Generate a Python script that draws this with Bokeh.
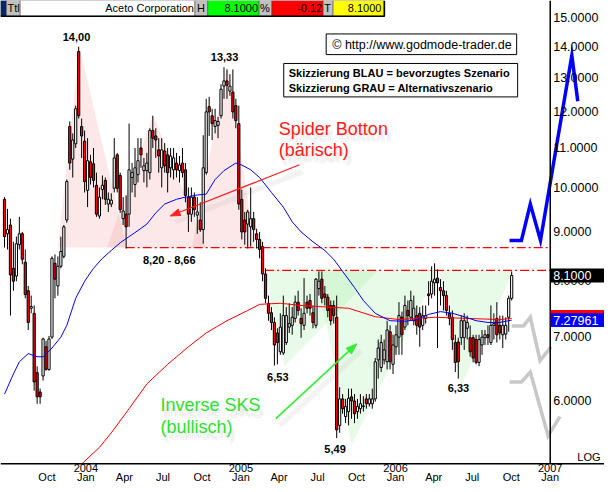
import math
import numpy as np
import pandas as pd
from bokeh.plotting import figure
from bokeh.models import Range1d, LinearScale, ColumnDataSource
from bokeh.core.properties import value
from bokeh.embed import file_html
from bokeh.resources import INLINE

# ---------------- data (weekly candles) ----------------
first_week = "2003-06-23"
opens = [9.72, 8.95, 9.14, 8.24, 8.09, 8.72, 8.95, 8.36, 7.81, 7.49,
         7.40, 6.42, 6.13, 6.37, 6.83, 6.47, 6.99, 8.34, 7.90, 8.28,
         8.48, 9.25, 11.57, 10.70, 11.10, 13.84, 11.57, 11.17, 9.93, 10.63,
         10.58, 10.05, 9.34, 9.95, 10.17, 9.61, 9.61, 9.98, 10.81, 10.29,
         9.28, 9.38, 9.38, 10.24, 10.07, 10.31, 10.99, 10.41, 10.41, 10.36,
         11.46, 11.31, 10.94, 10.48, 10.91, 10.81, 10.48, 10.43, 10.60, 10.41,
         10.60, 10.43, 9.77, 9.38, 9.77, 9.36, 9.25, 9.04, 10.36, 12.13,
         11.87, 11.57, 11.60, 11.87, 12.74, 12.90, 12.59, 12.56, 12.16, 11.65,
         9.72, 9.25, 9.16, 9.10, 9.28, 8.95, 8.83, 8.68, 8.13, 7.58,
         7.41, 7.24, 7.06, 6.75, 6.73, 6.90, 7.16, 7.19, 7.31, 7.60,
         7.31, 7.19, 7.60, 7.63, 7.41, 7.19, 7.85, 8.03, 7.75, 7.69,
         7.54, 7.54, 7.33, 5.66, 6.03, 5.78, 5.85, 6.06, 6.00, 5.85,
         5.89, 5.92, 6.03, 5.96, 5.96, 6.03, 6.62, 6.50, 6.62, 6.59,
         7.08, 6.55, 6.83, 6.99, 7.33, 7.16, 7.45, 7.33, 7.27, 7.36,
         7.40, 7.19, 7.31, 7.75, 7.75, 7.96, 8.05, 7.87, 7.81, 7.72,
         7.40, 7.33, 6.90, 6.91, 6.98, 6.98, 7.14, 6.98, 6.98, 6.95,
         6.58, 6.86, 6.98, 7.03, 6.90, 7.19, 7.31, 7.19, 7.03, 7.04,
         7.33, 7.67]
highs = [9.77, 9.50, 9.28, 8.78, 8.89, 9.32, 8.99, 8.62, 7.90, 7.72,
         7.54, 6.52, 6.18, 6.98, 6.93, 7.01, 8.48, 8.52, 8.48, 8.89,
         9.14, 10.19, 11.71, 11.38, 12.16, 14.00, 11.79, 11.46, 11.25, 10.81,
         10.99, 10.36, 10.00, 10.29, 10.24, 9.88, 9.86, 11.25, 10.86, 10.36,
         9.77, 9.81, 11.65, 10.60, 10.99, 11.25, 11.25, 10.73, 10.86, 11.52,
         11.87, 11.52, 11.25, 11.25, 11.12, 10.99, 10.99, 10.99, 10.86, 10.78,
         10.99, 10.60, 10.00, 10.00, 9.88, 9.77, 9.65, 11.33, 12.36, 12.42,
         12.07, 12.07, 11.84, 12.80, 13.33, 13.26, 13.11, 13.26, 12.36, 12.16,
         9.95, 9.43, 9.48, 10.00, 9.43, 9.06, 8.99, 8.78, 8.24, 7.72,
         7.51, 7.33, 7.14, 7.40, 7.72, 7.51, 7.58, 7.51, 7.72, 7.81,
         7.49, 8.05, 7.72, 7.75, 7.54, 8.05, 8.18, 8.18, 7.90, 7.75,
         7.63, 7.63, 7.72, 6.20, 6.10, 6.03, 6.18, 6.18, 6.10, 6.03,
         6.10, 6.07, 6.10, 6.10, 6.18, 6.65, 6.95, 7.03, 6.95, 7.27,
         7.19, 7.03, 7.19, 7.60, 7.43, 7.72, 7.63, 7.81, 7.72, 7.54,
         7.51, 7.54, 7.54, 7.99, 8.28, 8.34, 8.22, 8.03, 7.99, 7.81,
         7.54, 7.45, 7.03, 6.98, 7.36, 7.40, 7.36, 7.19, 7.03, 7.03,
         7.03, 7.11, 7.11, 7.19, 7.54, 7.40, 7.60, 7.36, 7.36, 7.33,
         7.72, 8.18]
lows = [8.66, 8.62, 7.36, 7.81, 7.99, 8.62, 8.32, 7.67, 7.11, 7.40,
        6.15, 5.96, 5.96, 6.30, 6.45, 6.45, 6.96, 7.67, 7.72, 8.24,
        8.44, 9.19, 10.43, 10.24, 10.99, 11.79, 10.73, 9.88, 9.54, 10.07,
        10.00, 9.32, 9.28, 9.72, 9.59, 9.43, 9.54, 9.88, 9.88, 9.41,
        9.14, 8.64, 9.10, 9.88, 9.77, 10.12, 10.48, 10.12, 10.00, 10.19,
        10.99, 10.73, 10.36, 10.00, 10.36, 9.88, 10.24, 10.19, 10.24, 10.12,
        10.24, 9.65, 8.99, 9.21, 9.32, 8.95, 8.99, 8.74, 10.31, 11.31,
        11.20, 11.38, 11.25, 11.79, 12.36, 12.36, 12.45, 11.79, 11.52, 9.48,
        8.83, 8.72, 8.64, 8.68, 8.78, 8.64, 8.44, 7.99, 7.58, 7.27,
        7.11, 6.53, 6.55, 6.70, 6.70, 6.86, 7.06, 7.03, 7.24, 7.36,
        6.98, 7.11, 7.40, 7.36, 7.14, 7.14, 7.72, 7.58, 7.54, 7.33,
        7.19, 7.22, 5.49, 5.56, 5.82, 5.69, 5.66, 5.75, 5.69, 5.75,
        5.82, 5.85, 5.89, 5.92, 5.89, 5.99, 6.33, 6.43, 6.55, 6.47,
        6.47, 6.40, 6.70, 6.70, 6.70, 7.11, 7.19, 7.27, 7.19, 7.03,
        6.83, 7.11, 7.22, 7.54, 7.67, 7.72, 6.81, 7.54, 7.45, 7.36,
        7.19, 6.78, 6.43, 6.33, 6.86, 6.78, 6.95, 6.67, 6.58, 6.55,
        6.52, 6.70, 6.86, 6.86, 6.86, 6.95, 6.90, 6.95, 6.81, 6.95,
        7.08, 7.63]
closes = [8.89, 9.04, 8.11, 7.99, 8.74, 8.95, 8.42, 7.74, 7.24, 7.52,
          6.28, 6.06, 6.06, 6.96, 6.47, 6.96, 8.44, 8.03, 8.28, 8.58,
          9.10, 10.14, 10.60, 11.20, 12.07, 11.87, 11.31, 10.14, 10.66, 10.24,
          10.17, 9.38, 9.77, 10.05, 9.72, 9.72, 9.70, 10.73, 9.98, 9.48,
          9.45, 9.10, 10.43, 10.36, 10.48, 10.66, 10.81, 10.53, 10.60, 11.46,
          11.25, 11.20, 10.78, 10.94, 10.53, 10.36, 10.78, 10.73, 10.43, 10.55,
          10.36, 9.81, 9.38, 9.77, 9.48, 9.43, 9.04, 10.48, 11.98, 11.98,
          11.65, 11.73, 11.71, 12.65, 12.90, 12.77, 12.74, 11.98, 11.73, 9.61,
          8.99, 8.99, 9.43, 9.28, 9.04, 8.83, 8.62, 8.13, 7.67, 7.40,
          7.24, 6.86, 6.90, 7.16, 7.36, 7.36, 7.22, 7.33, 7.60, 7.45,
          7.22, 7.40, 7.49, 7.49, 7.24, 8.03, 7.99, 7.67, 7.69, 7.45,
          7.27, 7.36, 5.60, 6.03, 5.89, 5.92, 6.04, 6.00, 5.82, 5.92,
          5.96, 5.93, 5.96, 6.03, 6.03, 6.59, 6.81, 6.90, 6.78, 7.11,
          6.59, 6.86, 7.03, 7.36, 7.03, 7.54, 7.36, 7.63, 7.49, 7.19,
          7.16, 7.36, 7.36, 7.72, 7.99, 8.03, 7.96, 7.81, 7.72, 7.45,
          7.31, 6.95, 6.58, 6.59, 7.27, 7.27, 7.24, 6.75, 6.65, 6.58,
          6.95, 6.99, 7.03, 6.98, 7.19, 7.22, 7.03, 7.06, 7.19, 7.19,
          7.67, 8.10]

# moving averages (at selected weeks)
ma_blue_week = [0, 3, 5, 8, 11, 13, 16, 19, 21, 24, 27, 30, 33, 36, 39, 42, 45, 48, 51, 54,
                58, 61, 65, 68, 71, 74, 78, 80, 83, 86, 90, 94, 97, 100, 104, 108, 111, 114, 118, 121,
                125, 130, 135, 139, 143, 147, 151, 155, 159, 163, 167, 171]
ma_blue_val = [6.10, 6.40, 6.59, 6.72, 6.67, 6.67, 6.81, 6.99, 7.19, 7.67, 7.99, 8.24, 8.44, 8.60, 8.76, 8.89, 9.02, 9.16, 9.41, 9.61,
               9.72, 9.77, 9.82, 9.84, 10.19, 10.41, 10.60, 10.55, 10.43, 10.24, 9.88, 9.54, 9.21, 8.99, 8.78, 8.60, 8.42, 8.18, 7.87, 7.63,
               7.40, 7.27, 7.26, 7.29, 7.38, 7.43, 7.40, 7.34, 7.27, 7.24, 7.24, 7.28]
ma_red_week = [26, 32, 36, 42, 48, 55, 62, 68, 75, 82, 86, 93, 100, 106, 116, 125, 133, 145, 156, 167, 171]
ma_red_val = [5.16, 5.37, 5.56, 5.89, 6.25, 6.55, 6.83, 7.06, 7.27, 7.45, 7.56, 7.58, 7.54, 7.52, 7.49, 7.34, 7.29, 7.33, 7.31, 7.29, 7.31]

# scenario sketches
blue_dates = ["2006-09-27", "2006-10-25", "2006-11-15", "2006-12-09", "2007-02-21", "2007-03-07"]
blue_vals = [8.81, 8.81, 9.61, 8.81, 13.71, 12.29]
gray1_dates = ["2006-10-02", "2006-10-30", "2006-11-15", "2006-12-08", "2007-01-03"]
gray1_vals = [7.18, 7.18, 7.33, 6.61, 6.83]
gray2_dates = ["2006-09-27", "2006-10-25", "2006-11-15", "2006-12-27", "2007-01-24"]
gray2_vals = [6.28, 6.28, 6.43, 5.52, 5.78]

# chart patterns (triangles: left base, apex, right base)
spider_tris = [(["2003-10-27", "2003-12-17", "2004-04-06"], [8.66, 14.00, 8.66]),
               (["2004-02-20", "2004-06-08", "2004-10-10"], [8.66, 11.90, 8.66]),
               (["2004-09-07", "2004-11-30", "2005-02-03"], [8.66, 13.45, 8.66])]
sks_tris = [(["2005-02-27", "2005-04-14", "2005-11-21"], [8.20, 6.52, 8.20]),
            (["2005-06-25", "2005-09-19", "2006-04-10"], [8.20, 5.40, 8.20]),
            (["2006-04-15", "2006-06-05", "2006-10-07"], [8.20, 6.22, 8.20])]
neck_upper, neck_upper_from = 8.66, "2004-04-04"
neck_lower, neck_lower_from = 8.20, "2005-02-27"

axis_ticks = [15, 14, 13, 12, 11, 10, 9, 8, 7, 6]
last_price = 8.10
ma_last = 7.27961
ma_red_last = 7.31

# ---------------- layout helpers ----------------
JAN04 = pd.Timestamp("2004-01-01")
X_JAN04, PX_PER_DAY = 86.5, 0.4293
Y_TEN, PX_PER_LN = 190.0, 425.0
REF_W, REF_H = 612, 492
W, H = 604, 484
AXIS_DATE = pd.Timestamp("2007-01-01")


def xdate(px):
    return JAN04 + pd.Timedelta(days=(px - X_JAN04) / PX_PER_DAY)


def yprice(py):
    return 10.0 * math.exp((Y_TEN - py) / PX_PER_LN)


FONT = "Liberation Sans"

p = figure(width=W, height=H, output_backend="svg", toolbar_location=None,
           x_axis_location=None, y_axis_location=None, y_axis_type="log",
           x_range=Range1d(xdate(0), xdate(REF_W)),
           y_range=Range1d(yprice(REF_H), yprice(0)),
           min_border=0, background_fill_color="white", border_fill_color="white")
p.outline_line_color = None
p.extra_x_ranges = {"px": Range1d(0, REF_W)}
p.extra_y_ranges = {"py": Range1d(REF_H, 0)}
p.extra_x_scales = {"px": LinearScale()}
p.extra_y_scales = {"py": LinearScale()}
for g in p.grid:
    g.visible = False

PX = dict(x_range_name="px", y_range_name="py")


def txt(x, y, s, size, color="black", bold=False, align="left", alpha=1.0,
        xr="px", yr="py", baseline="middle"):
    p.text(x=[x], y=[y], text=[s], text_font=value(FONT), text_font_size=value(size),
           text_color=color, text_alpha=alpha, text_font_style="bold" if bold else "normal",
           text_align=align, text_baseline=baseline, x_range_name=xr, y_range_name=yr)


def soft_text(x, y, s, size):
    # blurred drop shadow imitation
    xs = [x + 2, x + 4, x + 2, x + 4]
    ys = [y + 5, y + 5, y + 7, y + 7]
    p.text(x=xs, y=ys, text=[s] * 4, text_font=value(FONT), text_font_size=value(size),
           text_color="#808080", text_alpha=0.07, text_baseline="middle", **PX)


def arrow(x0, y0, x1, y1, color, width, hl, hw, alpha=1.0, head=True):
    dx, dy = x1 - x0, y1 - y0
    L = math.hypot(dx, dy)
    ux, uy = dx / L, dy / L
    bx, by = x1 - ux * hl, y1 - uy * hl
    nx, ny = -uy, ux
    p.line([x0, bx if head else x1], [y0, by if head else y1], line_color=color,
           line_width=width, line_alpha=alpha, **PX)
    if head:
        p.patch([x1, bx + nx * hw, bx - nx * hw], [y1, by + ny * hw, by - ny * hw],
                fill_color=color, line_color=color, fill_alpha=alpha, line_alpha=alpha, **PX)


# ---------------- pattern shading ----------------
for d, v in spider_tris:
    p.patch(pd.to_datetime(d), v, fill_color="#f08a8a", fill_alpha=0.2, line_color=None)
for d, v in sks_tris:
    p.patch(pd.to_datetime(d), v, fill_color="#7ee87e", fill_alpha=0.18, line_color=None)

# neckline dash-dot lines
p.line([pd.Timestamp(neck_upper_from), AXIS_DATE], [neck_upper, neck_upper],
       line_color="#ff0000", line_width=1.3, line_dash="9 3 2 3")
p.line([pd.Timestamp(neck_lower_from), AXIS_DATE], [neck_lower, neck_lower],
       line_color="#ff0000", line_width=1.3, line_dash="9 3 2 3")

# ---------------- candles ----------------
dates = pd.date_range(first_week, periods=len(closes), freq="7D")
df = pd.DataFrame(dict(date=dates, o=opens, h=highs, l=lows, c=closes))
df["top"] = np.maximum(df.o, df.c)
df["bot"] = np.minimum(df.o, df.c)
df["fill"] = np.where(df.c >= df.o, "white", "#ff0000")
src = ColumnDataSource(df)
p.segment(x0="date", y0="l", x1="date", y1="h", source=src, line_color="black", line_width=1)
p.vbar(x="date", top="top", bottom="bot", width=5.2 * 86400000, fill_color="fill",
       line_color="black", line_width=1, source=src)

# moving averages
wk = lambda idx: [dates[i] for i in idx]
p.line(wk(ma_red_week), ma_red_val, line_color="#ff0000", line_width=1)
p.line(wk(ma_blue_week), ma_blue_val, line_color="#0000ff", line_width=1)

# ---------------- scenario sketches ----------------
p.line(pd.to_datetime(gray1_dates), gray1_vals, line_color="#c8c8c8", line_width=3.5, line_join="miter")
p.line(pd.to_datetime(gray2_dates), gray2_vals, line_color="#c8c8c8", line_width=3.5, line_join="miter")
p.line(pd.to_datetime(blue_dates), blue_vals, line_color="#0000ff", line_width=3.5, line_join="miter")

# ---------------- annotations ----------------
# soft shadows
for off in (0, 2):
    arrow(305 + off, 173 + off, 176 + off, 224 + off, "#808080", 3, 9, 4, alpha=0.09, head=False)
    arrow(282 + off, 431 + off, 364 + off, 355 + off, "#808080", 3, 10, 4, alpha=0.09, head=False)
soft_text(282, 131, "Spider Botton", "18px")
soft_text(282, 152, "(bärisch)", "18px")
soft_text(162, 411, "Inverse SKS", "18px")
soft_text(162, 434, "(bullisch)", "18px")

arrow(303, 167, 172, 219, "#ff2020", 1.2, 10, 3.5)
arrow(279, 425, 361, 349, "#33ee33", 1.6, 11, 4)
txt(282, 131, "Spider Botton", "18px", color="#ff1a1a")
txt(282, 152, "(bärisch)", "18px", color="#ff1a1a")
txt(162, 411, "Inverse SKS", "18px", color="#2ee02e")
txt(162, 434, "(bullisch)", "18px", color="#2ee02e")

# price labels at the pattern points
txt(77, 37, "14,00", "11px", bold=True, align="center")
txt(227, 57, "13,33", "11px", bold=True, align="center")
txt(171, 264, "8,20 - 8,66", "11px", bold=True, align="center")
txt(281, 383, "6,53", "11px", bold=True, align="center")
txt(339, 456, "5,49", "11px", bold=True, align="center")
txt(464, 394, "6,33", "11px", bold=True, align="center")

# copyright box and legend box
p.quad(left=[330], right=[523], top=[34], bottom=[55], fill_color="white", line_color="black", line_width=1, **PX)
txt(427, 45, "© http://www.godmode-trader.de", "12.5px", align="center")
p.quad(left=[287], right=[524], top=[64], bottom=[98], fill_color="white", line_color="black", line_width=1, **PX)
txt(292, 74, "Skizzierung BLAU = bevorzugtes Szenario", "11px", bold=True)
txt(292, 89, "Skizzierung GRAU = Alternativszenario", "11px", bold=True)

# ---------------- axes ----------------
p.segment(x0=[AXIS_DATE], y0=[yprice(471)], x1=[AXIS_DATE], y1=[yprice(0)], line_color="black", line_width=1.5)
p.segment(x0=[0], y0=[471], x1=[REF_W], y1=[471], line_color="black", line_width=1.5, **PX)

for v in axis_ticks:
    txt(560, v, f"{v:.4f}", "12.5px", yr="default")

half = 7.0 / PX_PER_LN
p.quad(left=[557.5], right=[REF_W], top=[last_price * math.exp(half)], bottom=[last_price * math.exp(-half)],
       fill_color="black", line_color=None, x_range_name="px")
txt(560, last_price, f"{last_price:.4f}", "12.5px", color="white", yr="default")
p.quad(left=[557.5], right=[REF_W], top=[ma_red_last * math.exp(half + 1.5 / PX_PER_LN)],
       bottom=[ma_red_last * math.exp(-half)], fill_color="red", line_color=None, x_range_name="px")
p.quad(left=[557.5], right=[REF_W], top=[ma_last * math.exp(half)], bottom=[ma_last * math.exp(-half)],
       fill_color="#0000ff", line_color=None, x_range_name="px")
txt(560, ma_last, f"{ma_last:.5f}", "12.5px", color="white", yr="default")

txt(608, 464, "LOG", "11px", align="right")

quarters = pd.date_range("2003-10-01", "2007-01-01", freq="QS")
for q in quarters:
    txt(q, 484, q.strftime("%b"), "11px", align="center", xr="default")
    if q.month == 1:
        txt(q, 475, str(q.year), "11px", align="center", xr="default")

# ---------------- header bar ----------------
hdr_l = [0, 6, 20, 197, 210, 262, 275, 327, 337]
hdr_r = [6, 20, 197, 210, 262, 275, 327, 337, 388]
hdr_c = ["#0a246a", "#c0c0c0", "white", "#c0c0c0", "#00ff00", "#c0c0c0", "#ff0000", "#c0c0c0", "#ffff00"]
p.quad(left=hdr_l, right=hdr_r, top=[0] * 9, bottom=[16] * 9, fill_color=hdr_c,
       line_color="#404040", line_width=0.5, **PX)
p.line([0, 389, 389], [16, 16, 0], line_color="black", line_width=1.5, **PX)
txt(7, 8, "Ttl", "11px")
txt(196, 8, "Aceto Corporation", "11px", align="right")
txt(199, 8, "H", "11px")
txt(261, 8, "8.1000", "11px", align="right")
txt(263, 8, "%", "11px")
txt(326, 8, "-0.12", "11px", align="right")
txt(328, 8, "T", "11px")
txt(386, 8, "8.1000", "11px", align="right")

open("out.html", "w").write(file_html(p, INLINE))
